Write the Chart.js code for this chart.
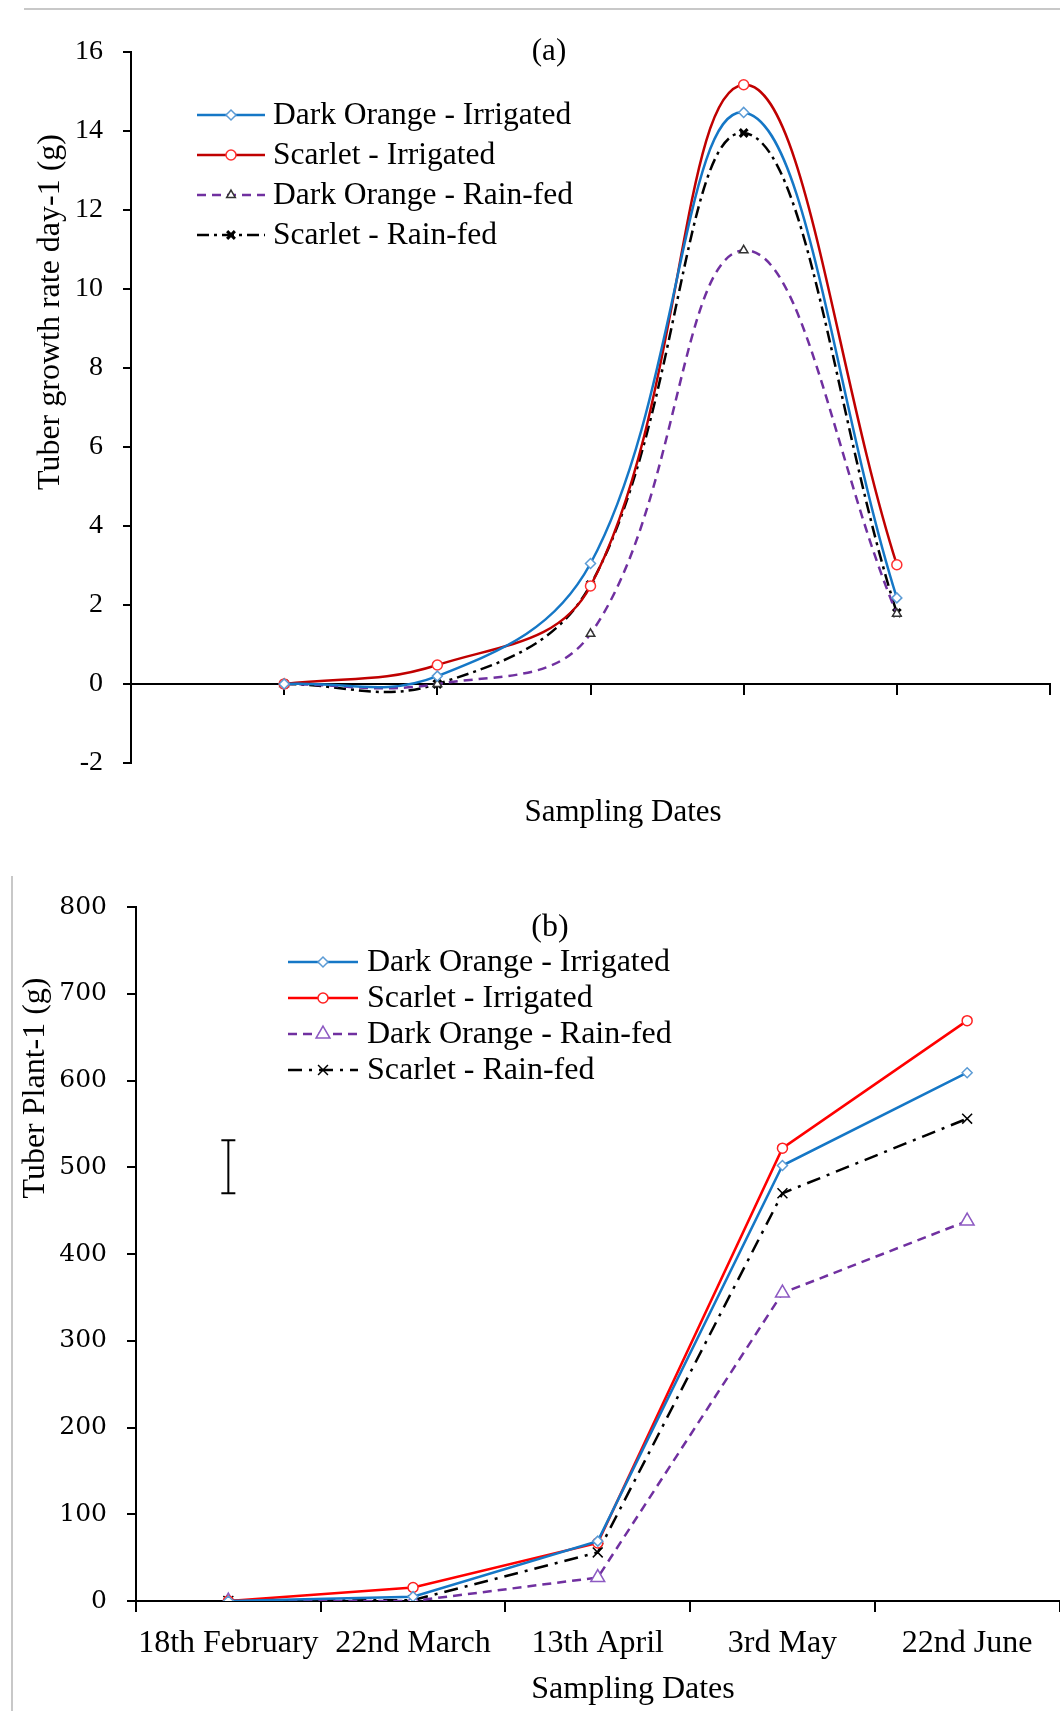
<!DOCTYPE html>
<html>
<head>
<meta charset="utf-8">
<script src="https://cdn.jsdelivr.net/npm/chart.js@4.4.1/dist/chart.umd.min.js"></script>
<style>
  html, body { margin: 0; padding: 0; background: #fff; }
  body { width: 1060px; height: 1711px; position: relative; overflow: hidden; }
  .panel { position: absolute; left: 0; }
  #panelA { top: 0; width: 1060px; height: 860px; }
  #panelB { top: 860px; width: 1069px; height: 851px; }
  .ruleTop { position: absolute; left: 24px; top: 8px; width: 1036px; border-top: 2px solid #c8c8c8; }
  .ruleLeft { position: absolute; left: 11px; top: 876px; height: 835px; border-left: 2px solid #c8c8c8; }
</style>
</head>
<body>
<div class="ruleTop"></div>
<div class="ruleLeft"></div>
<div class="panel" id="panelA"><canvas id="chartA" width="1060" height="860"></canvas></div>
<div class="panel" id="panelB"><canvas id="chartB" width="1069" height="851"></canvas></div>
<script>
const samplingDates = ['18th February', '22nd March', '13th April', '3rd May', '22nd June'];
const seriesNames = ['Dark Orange - Irrigated', 'Scarlet - Irrigated', 'Dark Orange - Rain-fed', 'Scarlet - Rain-fed'];

// (a) tuber growth rate day-1 (g)
const rateOrangeIrr = [0, 0.2, 3.05, 14.47, 2.18];
const rateScarletIrr = [0, 0.48, 2.48, 15.17, 3.02];
const rateOrangeRain = [0, 0, 1.27, 10.98, 1.78];
const rateScarletRain = [0, 0, 2.51, 13.95, 1.8];

// (b) tuber plant-1 (g)
const weightOrangeIrr = [0, 5, 69, 502, 609];
const weightScarletIrr = [0, 15.5, 67, 522, 669];
const weightOrangeRain = [0, 0, 27, 355, 438];
const weightScarletRain = [0, 1, 56, 470, 556];
const lsdBar = [470, 531]; // bar drawn at the first date

const serif = '"Liberation Serif", "Times New Roman", serif';
const wideSerif = '"DejaVu Serif", serif';

// loose text (panel letter, axis titles)
function textLayer(items) {
  return {
    id: 'textLayer',
    afterDraw(chart) {
      const ctx = chart.ctx;
      items.forEach(t => {
        ctx.save();
        ctx.font = t.font;
        ctx.fillStyle = '#000';
        ctx.textAlign = 'center';
        ctx.textBaseline = 'middle';
        ctx.translate(t.x, t.y);
        if (t.rotate) ctx.rotate(t.rotate);
        ctx.fillText(t.text, 0, 0);
        ctx.restore();
      });
    }
  };
}

// legend inside the plot, line sample with the marker in the middle
function legendLayer(cfg) {
  return {
    id: 'legendLayer',
    afterDraw(chart) {
      const ctx = chart.ctx;
      chart.data.datasets.forEach((ds, i) => {
        if (!ds.label) return;
        const y = cfg.top + i * cfg.step;
        ctx.save();
        ctx.strokeStyle = ds.borderColor;
        ctx.lineWidth = ds.borderWidth;
        ctx.setLineDash(ds.borderDash || []);
        ctx.beginPath();
        ctx.moveTo(cfg.x0, y);
        ctx.lineTo(cfg.x1, y);
        ctx.stroke();
        ctx.setLineDash([]);
        ctx.strokeStyle = ds.pointBorderColor;
        ctx.fillStyle = ds.pointBackgroundColor;
        ctx.lineWidth = ds.pointBorderWidth;
        Chart.helpers.drawPoint(ctx, {
          pointStyle: ds.pointStyle, rotation: 0,
          radius: ds.pointRadius, borderWidth: ds.pointBorderWidth
        }, (cfg.x0 + cfg.x1) / 2, y);
        ctx.fillStyle = '#000';
        ctx.font = cfg.font;
        ctx.textAlign = 'left';
        ctx.textBaseline = 'middle';
        ctx.fillText(ds.label, cfg.textX, y + 1);
        ctx.restore();
      });
    }
  };
}

function series(label, values, style, xs) {
  return Object.assign({
    label: label,
    data: values.map((v, i) => ({ x: xs ? xs[i] : i, y: v })),
    borderWidth: 2.5,
    pointBackgroundColor: '#fff',
    pointBorderWidth: 1.5,
    fill: false
  }, style);
}

const axisLine = { color: '#000', width: 2 };

// ---------- (a)
new Chart(document.getElementById('chartA'), {
  type: 'line',
  data: {
    datasets: [
      series(seriesNames[0], rateOrangeIrr, { borderColor: '#1577c6', pointStyle: 'rectRot', pointRadius: 5, pointBorderColor: '#5b9bd5' }),
      series(seriesNames[1], rateScarletIrr, { borderColor: '#c00000', pointStyle: 'circle', pointRadius: 5, pointBorderColor: '#ff3030' }),
      series(seriesNames[2], rateOrangeRain, { borderColor: '#7030a0', borderDash: [9, 6], pointStyle: 'triangle', pointRadius: 5, pointBorderColor: '#333' }),
      series(seriesNames[3], rateScarletRain, { borderColor: '#000', borderDash: [12, 5, 3, 5], pointStyle: 'crossRot', pointRadius: 5.5, pointBorderWidth: 3, pointBorderColor: '#000' })
    ]
  },
  options: {
    responsive: false,
    animation: false,
    layout: { padding: { left: 0, right: 10, top: 52, bottom: 97 } },
    elements: { line: { tension: 0.4 } },
    plugins: { legend: { display: false }, tooltip: { enabled: false } },
    scales: {
      x: {
        type: 'linear', min: -1, max: 5,
        position: { y: 0 },
        ticks: { display: false, stepSize: 1 },
        grid: { drawOnChartArea: false, drawTicks: true, tickLength: 10, color: '#000', lineWidth: 2 },
        border: axisLine
      },
      y: {
        min: -2, max: 16,
        ticks: { stepSize: 2, color: '#000', font: { family: serif, size: 28 }, padding: 20 },
        grid: { drawOnChartArea: false, tickLength: 8, color: '#000', lineWidth: 2 },
        border: axisLine,
        afterFit: s => { s.width = 131; }
      }
    }
  },
  plugins: [
    legendLayer({ x0: 197, x1: 265, textX: 273, top: 115, step: 40, font: '31.5px ' + serif }),
    textLayer([
      { text: '(a)', x: 549, y: 52, font: '31px ' + serif },
      { text: 'Tuber growth rate day-1 (g)', x: 51, y: 312, rotate: -Math.PI / 2, font: '32px ' + serif },
      { text: 'Sampling Dates', x: 623, y: 813, font: '31px ' + serif }
    ])
  ]
});

// ---------- (b)
const bars = {
  label: '',
  data: [{ x: samplingDates[0], y: lsdBar[0] }, { x: samplingDates[0], y: lsdBar[1] }],
  borderColor: '#000', borderWidth: 2,
  pointStyle: 'line', pointRadius: 7, pointBorderWidth: 2, pointBorderColor: '#000'
};

new Chart(document.getElementById('chartB'), {
  type: 'line',
  data: {
    labels: samplingDates,
    datasets: [
      series(seriesNames[0], weightOrangeIrr, { borderColor: '#1577c6', pointStyle: 'rectRot', pointRadius: 5, pointBorderColor: '#5b9bd5' }, samplingDates),
      series(seriesNames[1], weightScarletIrr, { borderColor: '#ff0000', pointStyle: 'circle', pointRadius: 5, pointBorderColor: '#ff2020' }, samplingDates),
      series(seriesNames[2], weightOrangeRain, { borderColor: '#7030a0', borderDash: [9, 6], pointStyle: 'triangle', pointRadius: 8, pointBorderColor: '#8d5ac2' }, samplingDates),
      series(seriesNames[3], weightScarletRain, { borderColor: '#000', borderDash: [14, 7, 3, 7], pointStyle: 'crossRot', pointRadius: 7, pointBorderWidth: 1.5, pointBorderColor: '#000' }, samplingDates),
      bars
    ]
  },
  options: {
    responsive: false,
    animation: false,
    layout: { padding: { left: 0, right: 1, top: 47, bottom: 50 } },
    elements: { line: { tension: 0 } },
    plugins: { legend: { display: false }, tooltip: { enabled: false } },
    scales: {
      x: {
        type: 'category', offset: true,
        ticks: { color: '#000', font: { family: serif, size: 32 }, padding: 12, maxRotation: 0, minRotation: 0, autoSkip: false },
        grid: { offset: true, drawOnChartArea: false, tickLength: 11, color: '#000', lineWidth: 2 },
        border: axisLine,
        afterFit: s => { s.height = 60; }
      },
      y: {
        min: 0, max: 800,
        ticks: { stepSize: 100, color: '#000', font: { family: wideSerif, size: 25 }, padding: 20 },
        grid: { drawOnChartArea: false, tickLength: 9, color: '#000', lineWidth: 2 },
        border: axisLine,
        afterFit: s => { s.width = 136; }
      }
    }
  },
  plugins: [
    legendLayer({ x0: 288, x1: 358, textX: 367, top: 102, step: 36, font: '32px ' + serif }),
    textLayer([
      { text: '(b)', x: 550, y: 68, font: '32px ' + serif },
      { text: 'Tuber Plant-1 (g)', x: 36, y: 228, rotate: -Math.PI / 2, font: '32px ' + serif },
      { text: 'Sampling Dates', x: 633, y: 830, font: '32px ' + serif }
    ])
  ]
});
</script>
</body>
</html>
